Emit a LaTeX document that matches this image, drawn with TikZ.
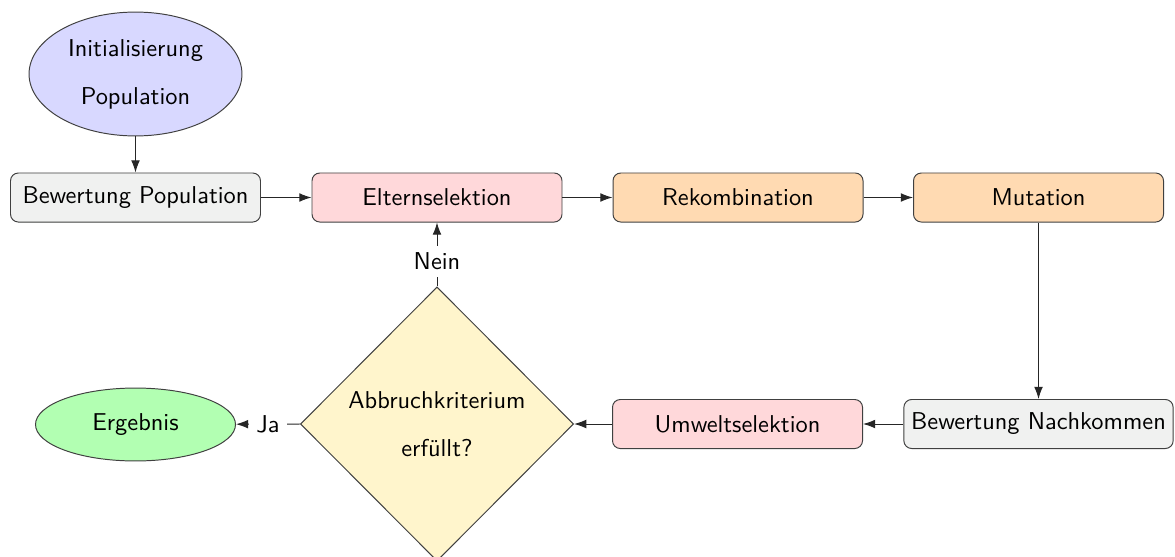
\documentclass[tikz,border=0pt]{standalone}
\usetikzlibrary{shapes.geometric,arrows.meta}
\definecolor{initfill}{RGB}{216,216,255}
\definecolor{evalfill}{RGB}{240,241,240}
\definecolor{selfill}{RGB}{255,216,218}
\definecolor{varfill}{RGB}{255,218,178}
\definecolor{decfill}{RGB}{255,245,204}
\definecolor{endfill}{RGB}{178,255,178}
\begin{document}
\begin{tikzpicture}[x=0.41pt,y=-0.41pt,font=\sffamily,
  >={Latex[length=5pt,width=3.6pt]},
  flow/.style={->,draw=black!85},
  stepbox/.style={draw=black!75,rounded corners=3.2pt,minimum width=102.5pt,
    minimum height=20.1pt,inner xsep=3pt,inner ysep=0pt},
  evalbox/.style={stepbox,fill=evalfill},
  selbox/.style={stepbox,fill=selfill},
  varbox/.style={stepbox,fill=varfill},
  startnode/.style={ellipse,draw=black!75,fill=initfill,inner sep=0pt,
    minimum width=87.3pt,minimum height=50.8pt,align=center},
  endnode/.style={ellipse,draw=black!75,fill=endfill,inner sep=0pt,
    minimum width=82pt,minimum height=29.9pt},
  decision/.style={diamond,draw=black!75,fill=decfill,inner sep=0pt,
    minimum width=112pt,minimum height=112.4pt,align=center},
  edgelabel/.style={fill=white,inner sep=3pt}]
\useasboundingbox (0,0) rectangle (1175,556);

% upper row
\node[startnode] (init) at (135.5,74) {Initialisierung\\[7.7pt]Population};
\node[evalbox] (evalpop) at (135.5,197.5) {Bewertung Population};
\node[selbox] (parents) at (437,197.5) {Elternselektion};
\node[varbox] (recomb) at (738,197.5) {Rekombination};
\node[varbox] (mutate) at (1038.5,197.5) {Mutation};

% lower row
\node[evalbox] (evaloff) at (1038.5,424) {Bewertung Nachkommen};
\node[selbox] (survivor) at (737.5,424) {Umweltselektion};
\node[decision] (stop) at (437,424) {Abbruchkriterium\\[7.7pt]erfüllt?};
\node[endnode] (result) at (135.5,424.5) {Ergebnis};

% connectors
\draw[flow] (init) -- (evalpop);
\draw[flow] (evalpop) -- (parents);
\draw[flow] (parents) -- (recomb);
\draw[flow] (recomb) -- (mutate);
\draw[flow] (mutate) -- (evaloff);
\draw[flow] (evaloff) -- (survivor);
\draw[flow] (survivor) -- (stop.east);
\draw[flow] (stop.west) -- node[edgelabel] (yes) {Ja} (result);
\draw[flow] (stop.north) -- node[edgelabel,pos=0.39] (no) {Nein} (parents);
\end{tikzpicture}
\end{document}
